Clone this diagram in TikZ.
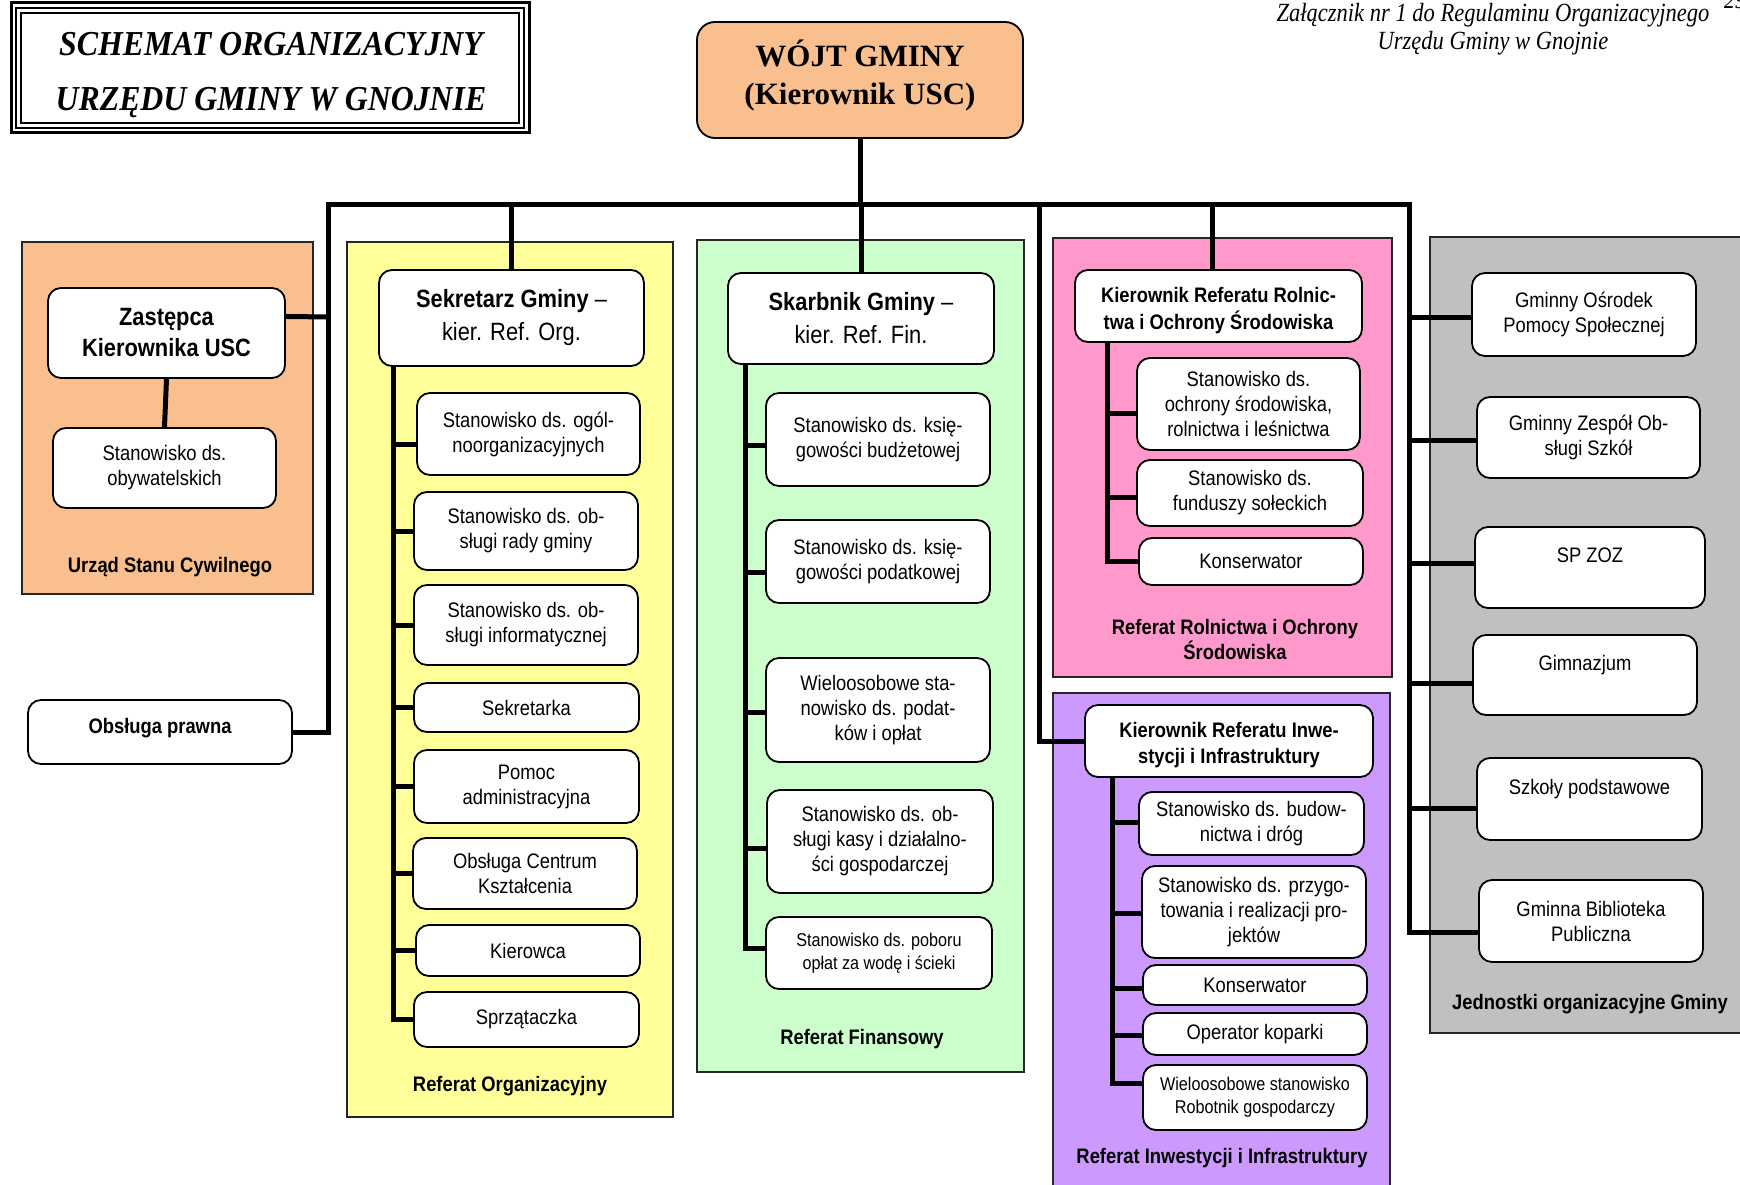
\documentclass[tikz,border=0pt]{standalone}
\usepackage{fontspec}
\usetikzlibrary{calc}
\newfontfamily\sansc[FakeStretch=0.875]{Liberation Sans}
\newfontfamily\serifc[FakeStretch=0.86]{Liberation Serif}
\newfontfamily\seriftitle[FakeStretch=0.91]{Liberation Serif}
\newfontfamily\serifn{Liberation Serif}
\definecolor{peach}{HTML}{FABF8F}
\definecolor{yel}{HTML}{FFFF99}
\definecolor{grn}{HTML}{CCFFCC}
\definecolor{pnk}{HTML}{FF99CC}
\definecolor{vio}{HTML}{CC99FF}
\definecolor{gry}{HTML}{C0C0C0}
\tikzset{
  box/.style={draw=black, line width=1.8pt, rounded corners=13pt, fill=white, align=center, inner sep=0pt, font=\sansc\fontsize{21}{25}\selectfont},
  hdr/.style={box, font=\sansc\fontsize{25}{33}\selectfont},
  hdrtext/.style={align=center, inner sep=0pt, font=\sansc\bfseries\fontsize{21}{26.5}\selectfont},
  smallbox/.style={box, font=\sansc\fontsize{18.5}{23}\selectfont},
  panel/.style={draw=black!85, line width=1.5pt},
  lab/.style={align=center, inner sep=0pt, font=\sansc\bfseries\fontsize{21}{25}\selectfont},
  conn/.style={line width=5pt},
}
\begin{document}
\begin{tikzpicture}[x=1pt,y=-1pt]
\useasboundingbox[fill=white] (0,0) rectangle (1740,1185);

% title frame
\draw[line width=3pt] (11,3) rectangle (529,133);
\draw[line width=1.2pt] (16,8) rectangle (524,128);
\draw[line width=2.2pt] (21,13) rectangle (519,123);
\node[align=center, inner sep=0pt, font=\seriftitle\bfseries\itshape\fontsize{35}{55}\selectfont] (title) at (271,75) {SCHEMAT ORGANIZACYJNY\\URZĘDU GMINY W GNOJNIE};

% note
\node[align=center, inner sep=0pt, font=\serifc\itshape\fontsize{26.2}{28.5}\selectfont] (note) at (1493,29) {Załącznik nr 1 do Regulaminu Organizacyjnego\\Urzędu Gminy w Gnojnie};
\node[anchor=north west, inner sep=0pt, font=\serifc\itshape\fontsize{25}{28}\selectfont] (pg) at (1724,-8) {29};

% panels
\draw[panel, fill=peach] (22,242) rectangle (313,594);
\draw[panel, fill=yel] (347,242) rectangle (673,1117);
\draw[panel, fill=grn] (697,240) rectangle (1024,1072);
\draw[panel, fill=pnk] (1053,238) rectangle (1392,677);
\draw[panel, fill=vio] (1053,693) rectangle (1390,1200);
\draw[panel, fill=gry] (1430,237) rectangle (1760,1033);

% top
\node[box, fill=peach, minimum width=326pt, minimum height=116pt, rounded corners=18pt] (wojt) at (860,80) {};
\node[align=center, inner sep=0pt, font=\serifn\bfseries\fontsize{31}{38}\selectfont] (wojtt) at (860,75.5) {WÓJT GMINY\\(Kierownik USC)};

% USC
\node[box, minimum width=237pt, minimum height=90pt, font=\sansc\bfseries\fontsize{25}{31}\selectfont] (zast) at (166.5,333) {Zastępca\\Kierownika USC};
\node[box, minimum width=223pt, minimum height=80pt] (obyw) at (164.5,468) {Stanowisko ds.\\obywatelskich};
\node[lab] (lusc) at (170,567) {Urząd Stanu Cywilnego};
\node[box, minimum width=264pt, minimum height=64pt] (prawna) at (160,732) {};
\node[lab] (prawnat) at (160,728) {Obsługa prawna};

% Referat Organizacyjny
\node[hdr, minimum width=265pt, minimum height=96pt] (sek) at (511.5,318) {\textbf{Sekretarz Gminy} –\\kier. Ref. Org.};
\node[box, minimum width=223pt, minimum height=82pt] (ya) at (528.5,434) {Stanowisko ds. ogól-\\noorganizacyjnych};
\node[box, minimum width=224pt, minimum height=78pt] (yb) at (526,531) {Stanowisko ds. ob-\\sługi rady gminy};
\node[box, minimum width=224pt, minimum height=80pt] (yc) at (526,625) {Stanowisko ds. ob-\\sługi informatycznej};
\node[box, minimum width=225pt, minimum height=49pt] (yd) at (526.5,707.5) {Sekretarka};
\node[box, minimum width=225pt, minimum height=73pt] (ye) at (526.5,786.5) {Pomoc\\administracyjna};
\node[box, minimum width=224pt, minimum height=71pt] (yf) at (525,873.5) {Obsługa Centrum\\Kształcenia};
\node[box, minimum width=224pt, minimum height=51pt] (yg) at (528,950.5) {Kierowca};
\node[box, minimum width=225pt, minimum height=55pt] (yh) at (526.5,1019.5) {Sprzątaczka};
\node[lab] (lorg) at (510,1086) {Referat Organizacyjny};

% Referat Finansowy
\node[hdr, minimum width=266pt, minimum height=91pt] (skb) at (861,318.5) {\textbf{Skarbnik Gminy} –\\kier. Ref. Fin.};
\node[box, minimum width=224pt, minimum height=93pt] (ga) at (878,439.5) {Stanowisko ds. księ-\\gowości budżetowej};
\node[box, minimum width=224pt, minimum height=83pt] (gb) at (878,561.5) {Stanowisko ds. księ-\\gowości podatkowej};
\node[box, minimum width=224pt, minimum height=104pt] (gc) at (878,710) {Wieloosobowe sta-\\nowisko ds. podat-\\ków i opłat};
\node[box, minimum width=226pt, minimum height=103pt] (gd) at (880,841.5) {Stanowisko ds. ob-\\sługi kasy i działalno-\\ści gospodarczej};
\node[smallbox, minimum width=226pt, minimum height=72pt] (ge) at (879,953) {Stanowisko ds. poboru\\opłat za wodę i ścieki};
\node[lab] (lfin) at (862,1039) {Referat Finansowy};

% Referat Rolnictwa
\node[box, minimum width=287pt, minimum height=72pt] (kro) at (1218.5,306) {};
\node[hdrtext] (krot) at (1218.5,310.5) {Kierownik Referatu Rolnic-\\twa i Ochrony Środowiska};
\node[box, minimum width=223pt, minimum height=92pt] (pa) at (1248.5,404) {Stanowisko ds.\\ochrony środowiska,\\rolnictwa i leśnictwa};
\node[box, minimum width=226pt, minimum height=66pt] (pb) at (1250,493) {Stanowisko ds.\\funduszy sołeckich};
\node[box, minimum width=224pt, minimum height=47pt] (pc) at (1251,561.5) {Konserwator};
\node[lab] (lrol) at (1235,639) {Referat Rolnictwa i Ochrony\\Środowiska};

% Referat Inwestycji
\node[box, minimum width=288pt, minimum height=72pt] (kinw) at (1229,741) {};
\node[hdrtext] (kinwt) at (1229,745) {Kierownik Referatu Inwe-\\stycji i Infrastruktury};
\node[box, minimum width=225pt, minimum height=63pt] (va) at (1251.5,823.5) {Stanowisko ds. budow-\\nictwa i dróg};
\node[box, minimum width=224pt, minimum height=92pt] (vb) at (1254,912) {Stanowisko ds. przygo-\\towania i realizacji pro-\\jektów};
\node[box, minimum width=224pt, minimum height=40pt] (vc) at (1255,985) {Konserwator};
\node[box, minimum width=224pt, minimum height=42pt] (vd) at (1255,1034) {Operator koparki};
\node[smallbox, minimum width=224pt, minimum height=65pt] (ve) at (1255,1097.5) {Wieloosobowe stanowisko\\Robotnik gospodarczy};
\node[lab] (linw) at (1222,1158) {Referat Inwestycji i Infrastruktury};

% Jednostki
\node[box, minimum width=224pt, minimum height=83pt] (ja) at (1584,314.5) {Gminny Ośrodek\\Pomocy Społecznej};
\node[box, minimum width=223pt, minimum height=81pt] (jb) at (1588.5,437.5) {Gminny Zespół Ob-\\sługi Szkół};
\node[box, minimum width=230pt, minimum height=81pt] (jc) at (1590,567.5) {SP ZOZ\\\mbox{}};
\node[box, minimum width=224pt, minimum height=80pt] (jd) at (1585,675) {Gimnazjum\\\mbox{}};
\node[box, minimum width=225pt, minimum height=82pt] (je) at (1589.5,799) {Szkoły podstawowe\\\mbox{}};
\node[box, minimum width=224pt, minimum height=82pt] (jf) at (1591,921) {Gminna Biblioteka\\Publiczna};
\node[lab] (ljed) at (1590,1004) {Jednostki organizacyjne Gminy};

% connectors
\coordinate (busL) at (328,205);
\coordinate (busR) at (1409,205);
\coordinate (busI) at (1039,205);
\draw[conn] (prawna.east) -- (busL |- prawna.east) -- (busL) -- (busR) -- (busR |- 0,932) -- (jf.west |- 0,932);
\draw[conn] (wojt.south) -- (wojt.south |- busL);
\draw[conn] (sek.north) -- (sek.north |- busL);
\draw[conn] (skb.north) -- (skb.north |- busL);
\draw[conn] (1212,0 |- kro.north) -- (1212,0 |- busL);
\draw[conn] (busI) -- (busI |- kinw.west) -- (kinw.west);
\draw[conn] ($(zast.north east)!0.32!(zast.south east)$) -- (busL |- 0,317);
\draw[conn] (zast.south) -- (obyw.north);
% right column
\draw[conn] (busR |- 0,317) -- (ja.west |- 0,317);
\draw[conn] (busR |- 0,440) -- (jb.west |- 0,440);
\draw[conn] (busR |- 0,563) -- (jc.west |- 0,563);
\draw[conn] (busR |- 0,683) -- (jd.west |- 0,683);
\draw[conn] (busR |- 0,808) -- (je.west |- 0,808);
% yellow spine
\draw[conn] (393,0 |- sek.south) -- (393,0 |- yh.west) -- (yh.west);
\foreach \n in {yb,yc,yd,ye,yf,yg} \draw[conn] (393,0 |- \n.west) -- (\n.west);
\draw[conn] (393,444) -- (ya.west |- 0,444);
% green spine
\draw[conn] (745,0 |- skb.south) -- (745,948) -- (ge.west |- 0,948);
\draw[conn] (745,445) -- (ga.west |- 0,445);
\draw[conn] (745,572) -- (gb.west |- 0,572);
\draw[conn] (745,712) -- (gc.west |- 0,712);
\draw[conn] (745,848) -- (gd.west |- 0,848);
% pink spine
\draw[conn] (1107,0 |- kro.south) -- (1107,0 |- pc.west) -- (pc.west);
\draw[conn] (1107,413) -- (pa.west |- 0,413);
\draw[conn] (1107,497) -- (pb.west |- 0,497);
% violet spine
\draw[conn] (1112,0 |- kinw.south) -- (1112,1083) -- (ve.west |- 0,1083);
\draw[conn] (1112,822) -- (va.west |- 0,822);
\draw[conn] (1112,913) -- (vb.west |- 0,913);
\draw[conn] (1112,988) -- (vc.west |- 0,988);
\draw[conn] (1112,1035) -- (vd.west |- 0,1035);
\end{tikzpicture}
\end{document}
